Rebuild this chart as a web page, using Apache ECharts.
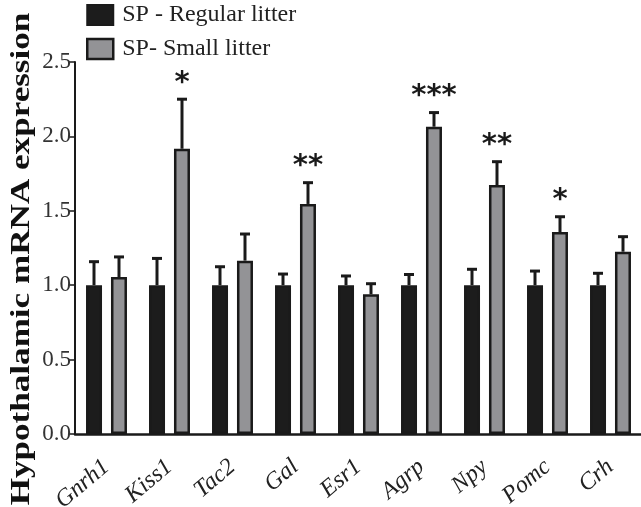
<!DOCTYPE html>
<html>
<head>
<meta charset="utf-8">
<script src="https://cdn.jsdelivr.net/npm/echarts@6/dist/echarts.min.js"></script>
<style>
html,body{margin:0;padding:0;background:#fff;}
#main{width:641px;height:507px;}
</style>
</head>
<body>
<div id="main"></div>
<script>
// ---- data ----
var categories = ['Gnrh1','Kiss1','Tac2','Gal','Esr1','Agrp','Npy','Pomc','Crh'];
var regularMean = [1.0, 1.0, 1.0, 1.0, 1.0, 1.0, 1.0, 1.0, 1.0];
var regularErr  = [0.158, 0.18, 0.124, 0.075, 0.062, 0.072, 0.107, 0.095, 0.08];
var smallMean   = [1.055, 1.917, 1.165, 1.546, 0.939, 2.065, 1.673, 1.357, 1.225];
var smallErr    = [0.135, 0.333, 0.179, 0.143, 0.071, 0.095, 0.157, 0.103, 0.101];
var significance = ['', '*', '', '**', '', '***', '**', '*', ''];
var yTicks = [0, 0.5, 1.0, 1.5, 2.0, 2.5];
var seriesNames = ['SP - Regular litter', 'SP- Small litter'];

// ---- styling ----
var BAR_W = 16, BORDER = 2.5, OFFSET = 12.5;
var serif = '"Liberation Serif", "Times New Roman", serif';

function errData(means, errs) {
  return means.map(function (m, i) { return [i, m, errs[i]]; });
}

function errRender(offset, stars) {
  return function (params, api) {
    var i = api.value(0), m = api.value(1), e = api.value(2);
    var star = stars ? stars[params.dataIndex] : '';
    var base = api.coord([i, m]);
    var top = api.coord([i, m + e]);
    var x = base[0] + offset;
    var children = [
      { type: 'line', shape: { x1: x, y1: base[1], x2: x, y2: top[1] },
        style: { stroke: '#1a1a1a', lineWidth: 3 } },
      { type: 'line', shape: { x1: x - 5, y1: top[1], x2: x + 5, y2: top[1] },
        style: { stroke: '#1a1a1a', lineWidth: 3 } }
    ];
    if (star) {
      children.push({ type: 'text', x: x, y: top[1] - 16,
        style: { text: star, fill: '#1a1a1a', font: 'bold 29px "DejaVu Sans", sans-serif',
                 align: 'center', verticalAlign: 'middle' } });
    }
    return { type: 'group', children: children };
  };
}

var chart = echarts.init(document.getElementById('main'), null, { renderer: 'canvas' });
chart.setOption({
  animation: false,
  backgroundColor: '#fff',
  grid: { left: 75, right: -1, top: 62, bottom: 73, containLabel: false, outerBoundsMode: 'none' },
  legend: {
    orient: 'vertical', left: 86, top: 3, padding: 0, itemWidth: 26, itemHeight: 20, itemGap: 10,
    icon: 'rect',
    data: [
      { name: seriesNames[0], icon: 'rect', itemStyle: { color: '#1c1c1c', borderColor: '#1a1a1a', borderWidth: 2 } },
      { name: seriesNames[1], icon: 'rect', itemStyle: { color: '#939396', borderColor: '#1a1a1a', borderWidth: 2.5 } }
    ],
    textStyle: { fontFamily: serif, fontSize: 24, color: '#222', padding: [0, 0, 0, 4] }
  },
  xAxis: {
    type: 'category', data: categories,
    axisLine: { lineStyle: { color: '#1a1a1a', width: 2.5 } },
    axisTick: { alignWithLabel: true, length: 7, lineStyle: { color: '#1a1a1a', width: 2 } },
    axisLabel: { rotate: 40, margin: 30, fontFamily: serif, fontStyle: 'italic',
                 fontSize: 24, color: '#222' }
  },
  yAxis: {
    type: 'value', min: 0, max: 2.5, interval: 0.5,
    splitLine: { show: false },
    axisLine: { show: true, lineStyle: { color: '#1a1a1a', width: 2 } },
    axisTick: { show: true, length: 6, lineStyle: { color: '#1a1a1a', width: 1.5 } },
    axisLabel: { margin: 4, fontFamily: serif, fontSize: 23, color: '#333',
      formatter: function (v) { return yTicks.indexOf(v) >= 0 ? v.toFixed(1) : ''; } }
  },
  graphic: [{
    type: 'text', x: 22, y: 259, rotation: Math.PI / 2, scaleX: 1.3,
    style: { text: 'Hypothalamic mRNA expression', font: 'bold 27px ' + serif, fill: '#111',
             align: 'center', verticalAlign: 'middle' }
  }],
  series: [
    { name: seriesNames[0], type: 'bar', data: regularMean, barWidth: BAR_W, barGap: '56%',
      itemStyle: { color: '#1c1c1c', borderColor: '#1a1a1a', borderWidth: BORDER } },
    { name: seriesNames[1], type: 'bar', data: smallMean, barWidth: BAR_W, barGap: '56%',
      itemStyle: { color: '#939396', borderColor: '#1a1a1a', borderWidth: BORDER } },
    { type: 'custom', renderItem: errRender(-OFFSET), data: errData(regularMean, regularErr), z: 1, silent: true },
    { type: 'custom', renderItem: errRender(OFFSET, significance), data: errData(smallMean, smallErr), z: 1, silent: true }
  ]
});
</script>
</body>
</html>
